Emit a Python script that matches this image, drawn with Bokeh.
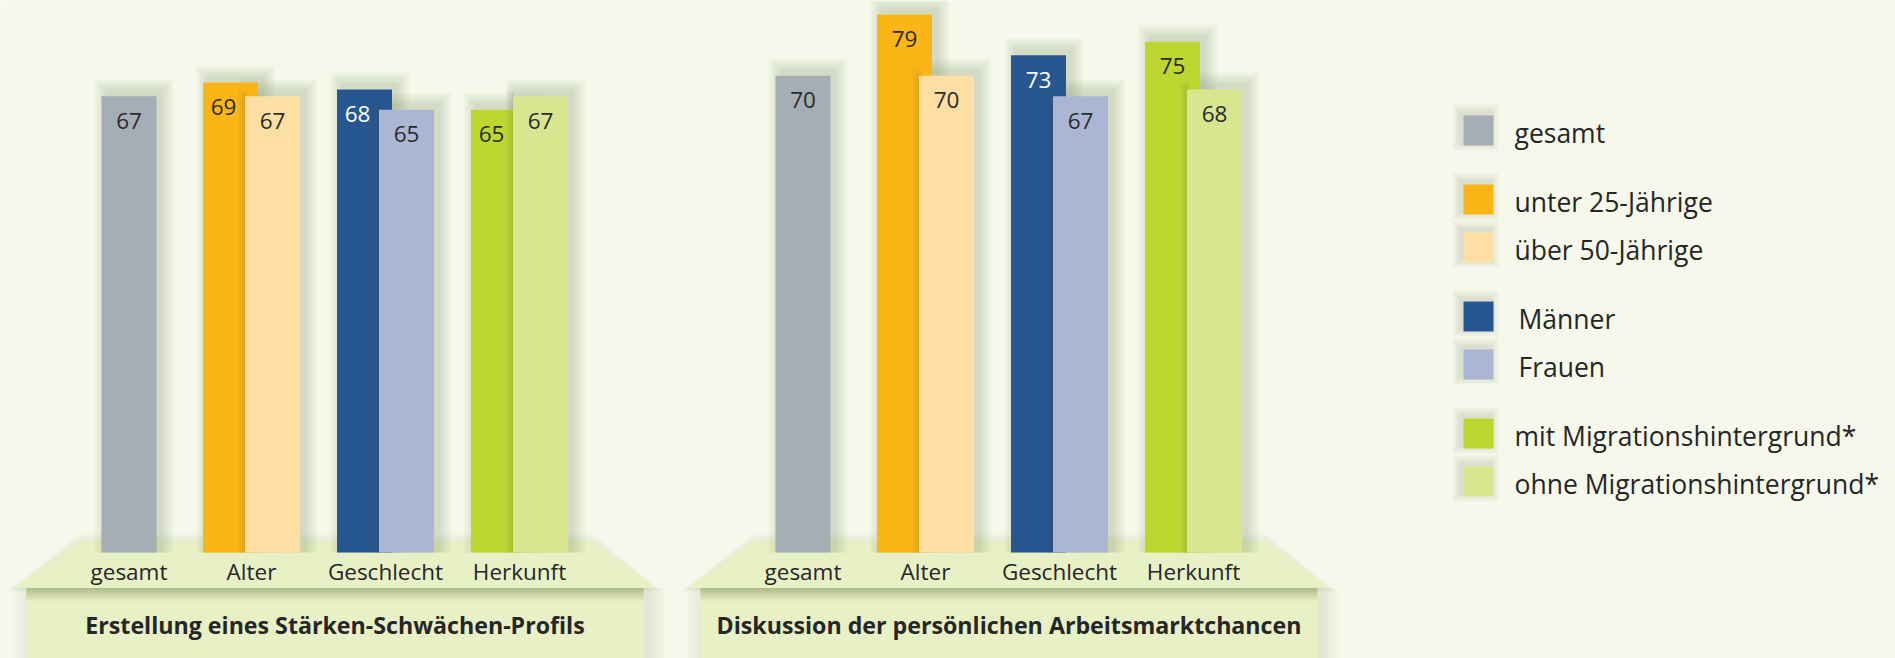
from bokeh.plotting import figure
from bokeh.models import Range1d, ColumnDataSource
from bokeh.core.properties import value
from bokeh.embed import file_html
from bokeh.resources import INLINE

# ---------------- data ----------------
panel_titles = ["Erstellung eines Stärken-Schwächen-Profils",
                "Diskussion der persönlichen Arbeitsmarktchancen"]
groups = ["gesamt", "Alter", "Geschlecht", "Herkunft"]
series = ["gesamt", "unter 25-Jährige", "über 50-Jährige", "Männer", "Frauen",
          "mit Migrationshintergrund*", "ohne Migrationshintergrund*"]
colors = ["#A6AEB5", "#FBB516", "#FEDFA3", "#275791", "#ABB6D4", "#BED630", "#DAE68F"]
label_colors = ["#2B2B2B", "#2B2B2B", "#2B2B2B", "#FFFFFF", "#2B2B2B", "#2B2B2B", "#2B2B2B"]
profil = [67, 69, 67, 68, 65, 65, 67]
chancen = [70, 79, 70, 73, 67, 75, 68]
panel_values = [profil, chancen]
series_group = [0, 1, 1, 2, 2, 3, 3]
series_slot = [0, -1, 1, -1, 1, -1, 1]   # 0 single, -1 back bar, +1 front bar

# ---------------- layout ----------------
MARGIN = 0
W, H = 1895, 658
BASE_PX = 552.0     # window-pixel y of the value 0
PXU = 6.81          # pixels per percentage point
BG = "#F5F8EA"
TXT = "#262626"
FONT = "Open Sans"

group_centers = [128.5, 251.0, 385.0, 519.0]
PANEL_DX = 674.0
BAR_W = 55.0
PAIR_HALF = 21.0

p = figure(width=W, height=H, output_backend="svg", toolbar_location=None,
           x_range=Range1d(MARGIN, MARGIN + W),
           y_range=Range1d((BASE_PX - (MARGIN + H)) / PXU, (BASE_PX - MARGIN) / PXU),
           min_border=0)
p.extra_y_ranges = {"px": Range1d(MARGIN + H, MARGIN)}
p.xaxis.visible = False
p.yaxis.visible = False
p.grid.visible = False
p.outline_line_color = None
p.background_fill_color = BG
p.border_fill_color = BG

# ---------------- platforms ----------------
for k in range(2):
    ox = k * PANEL_DX
    # soft side shadows of the box
    for i in range(6):
        pad = 2 + i * 3
        p.quad(left=[26 + ox - pad + 4], right=[643 + ox + pad + 4], top=[588], bottom=[662],
               y_range_name="px", fill_color="#8A9260", fill_alpha=0.025, line_color=None)
    # box
    p.quad(left=[26 + ox], right=[643 + ox], top=[586], bottom=[662], y_range_name="px",
           fill_color="#E8F0C5", line_color=None)
    # shadow of the platform edge on the box
    for i in range(8):
        p.quad(left=[26 + ox], right=[643 + ox], top=[587], bottom=[589 + i * 1.6],
               y_range_name="px", fill_color="#7F8858", fill_alpha=0.07, line_color=None)
    # shadow under the trapezoid
    for i in range(4):
        pad = 1 + i * 2
        p.patch([79 + ox, 592 + ox, 655 + ox + pad, 13 + ox - pad],
                [540 - pad, 540 - pad, 588 + pad * 0.5, 588 + pad * 0.5], y_range_name="px",
                fill_color="#8A9260", fill_alpha=0.03, line_color=None)
    # trapezoid
    p.patch([79 + ox, 592 + ox, 655 + ox, 13 + ox], [540, 540, 587.5, 587.5], y_range_name="px",
            fill_color="#E8F0C6", line_color=None)
    # category labels
    p.text(x=[c + ox for c in group_centers], y=[571] * 4, text=groups, y_range_name="px",
           text_font=value(FONT), text_font_size="22.5px", text_color=TXT,
           text_align="center", text_baseline="middle")
    # panel title
    p.text(x=[334.5 + ox], y=[624], text=[panel_titles[k]], y_range_name="px",
           text_font=value(FONT), text_font_size="23.2px", text_font_style="bold",
           text_color=TXT, text_align="center", text_baseline="middle")

# ---------------- bars ----------------
bx, bv, bc = [], [], []
for k in range(2):
    for s in range(len(series)):
        bx.append(k * PANEL_DX + group_centers[series_group[s]] + series_slot[s] * PAIR_HALF)
        bv.append(panel_values[k][s])
        bc.append(colors[s])

# shadows (up-right, soft)
for i in range(6):
    pad = (1 + i * 2.2)
    p.quad(left=[x - BAR_W / 2 - pad + 5 for x in bx],
           right=[x + BAR_W / 2 + pad + 5 for x in bx],
           top=[v + (pad + 5) / PXU for v in bv], bottom=[0] * len(bx),
           fill_color="#5C6438", fill_alpha=0.036, line_color=None)

order_back = [i for i in range(len(bx)) if series_slot[i % len(series)] <= 0]
order_front = [i for i in range(len(bx)) if series_slot[i % len(series)] > 0]
for idx in (order_back, order_front):
    if idx is order_front:
        # shadow of front bar onto back bar
        for i in range(4):
            pad = 1 + i * 2
            p.quad(left=[bx[j] - BAR_W / 2 - pad for j in idx],
                   right=[bx[j] - BAR_W / 2 + 2 for j in idx],
                   top=[bv[j] + pad / PXU for j in idx], bottom=[0] * len(idx),
                   fill_color="#4A5230", fill_alpha=0.04, line_color=None)
    src = ColumnDataSource(dict(x=[bx[j] for j in idx], top=[bv[j] for j in idx],
                                c=[bc[j] for j in idx]))
    p.vbar(x="x", top="top", bottom=0, width=BAR_W, fill_color="c", line_color=None, source=src)

# value labels
lx, ly, lt, lc = [], [], [], []
for k in range(2):
    vals = panel_values[k]
    for s in range(len(series)):
        x = k * PANEL_DX + group_centers[series_group[s]] + series_slot[s] * PAIR_HALF
        if series_slot[s] == -1 and vals[s] < vals[s + 1] + 4:
            x -= 7
        lx.append(x)
        ly.append(vals[s])
        lt.append(str(vals[s]))
        lc.append(label_colors[s])
p.text(x=lx, y=ly, text=lt, text_color=lc, y_offset=24.5,
       text_font=value(FONT), text_font_size="22.5px",
       text_align="center", text_baseline="middle")

# ---------------- legend ----------------
legend_groups = [0, 1, 1, 2, 2, 3, 3]
legend_indent = [0, 0, 0, 4, 4, 0, 0]
row_y = []
y = 130.0
for s in range(len(series)):
    if s > 0:
        y += 48 + (21 if legend_groups[s] != legend_groups[s - 1] else 0)
    row_y.append(y)
for i in range(5):
    pad = 1 + i * 1.8
    p.quad(left=[1463 - pad - 3] * 7, right=[1493 + pad - 3] * 7,
           top=[ry - 15 - pad - 3 for ry in row_y], bottom=[ry + 15 + pad - 3 for ry in row_y],
           y_range_name="px", fill_color="#5C6438", fill_alpha=0.03, line_color=None)
p.quad(left=[1463] * 7, right=[1493] * 7, top=[ry - 15 for ry in row_y],
       bottom=[ry + 15 for ry in row_y], y_range_name="px", fill_color=colors, line_color=None)
p.text(x=[1514 + d for d in legend_indent], y=[ry + 2 for ry in row_y], text=series,
       y_range_name="px", text_font=value(FONT), text_font_size="26.5px", text_color=TXT,
       text_align="left", text_baseline="middle")

open("out.html", "w").write(file_html(p, INLINE))
